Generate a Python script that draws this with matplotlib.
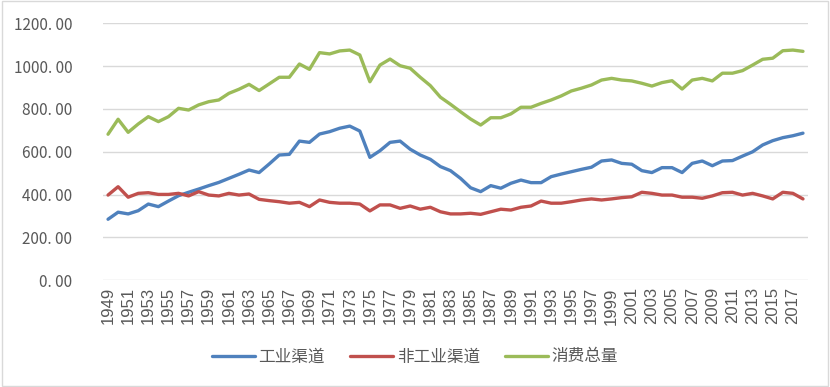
"""Consumption by channel, 1949-2018: line chart with three series."""

import matplotlib
matplotlib.use("Agg")
import matplotlib.pyplot as plt
from matplotlib.patches import Rectangle

plt.rcParams["font.family"] = ["Noto Sans CJK SC", "DejaVu Sans"]

years = list(range(1949, 2019))

industrial = [
    285, 318, 310, 325, 356, 344, 370, 395, 411, 426,
    442, 457, 476, 495, 515, 503, 543, 585, 588, 650,
    644, 683, 694, 710, 720, 697, 574, 605, 644, 650,
    612, 585, 565, 531, 512, 476, 432, 414, 442, 430,
    453, 468, 456, 456, 484, 496, 507, 518, 528, 557,
    562, 546, 542, 512, 503, 526, 526, 503, 546, 557,
    535, 557, 559, 580, 600, 632, 652, 666, 675, 687,
]
non_industrial = [
    398, 437, 388, 406, 409, 401, 401, 406, 394, 414,
    398, 394, 406, 398, 403, 378, 372, 367, 360, 364,
    344, 375, 364, 360, 360, 356, 324, 352, 352, 336,
    347, 332, 341, 320, 310, 310, 313, 308, 320, 332,
    328, 341, 347, 370, 360, 360, 367, 375, 380, 375,
    380, 386, 390, 411, 406, 398, 398, 388, 388, 383,
    394, 409, 411, 398, 406, 394, 380, 411, 406, 380,
]
total = [
    682, 752, 691, 730, 764, 741, 764, 803, 795, 819,
    834, 842, 873, 892, 915, 886, 917, 948, 948, 1010,
    985, 1063, 1057, 1071, 1075, 1052, 927, 1005, 1033, 1002,
    990, 948, 909, 855, 822, 787, 753, 725, 759, 759,
    777, 808, 808, 826, 842, 861, 884, 897, 912, 935,
    943, 935, 931, 920, 907, 923, 932, 893, 935, 943,
    931, 967, 967, 979, 1005, 1032, 1037, 1072, 1075, 1069,
]

series_names = ["工业渠道", "非工业渠道", "消费总量"]
series_colors = ["#4F81BD", "#C0504D", "#9BBB59"]
y_ticks = [0, 200, 400, 600, 800, 1000, 1200]
x_ticks = years[::2]

W, H = 830, 387
fig = plt.figure(figsize=(W / 100, H / 100), dpi=100)
ax = fig.add_axes([103 / W, 1 - 280.3 / H, (808 - 103) / W, (280.3 - 23.3) / H])

for vals, name, col in zip([industrial, non_industrial, total], series_names, series_colors):
    ax.plot(years, vals, color=col, lw=2.4, label=name, solid_capstyle="round",
            solid_joinstyle="round")

ax.set_xlim(years[0] - 0.5, years[-1] + 0.5)
ax.set_ylim(0, 1200)
ax.set_yticks(y_ticks)
ax.set_yticklabels([f"{v:.2f}".replace(".", ". ") for v in y_ticks])
ax.set_xticks(x_ticks)
ax.set_xticklabels([str(y) for y in x_ticks], rotation=90)
ax.tick_params(axis="both", length=0, colors="#595959")
ax.tick_params(axis="y", pad=22, labelsize=11)
ax.tick_params(axis="x", pad=5)
for lbl in ax.get_xticklabels():
    lbl.set_family("Liberation Sans")
    lbl.set_fontsize(12)

ax.grid(axis="y", color="#D9D9D9", lw=1)
ax.set_axisbelow(True)
for s in ax.spines.values():
    s.set_visible(False)

leg = fig.legend(loc="center", bbox_to_anchor=(0.5, 1 - 357 / H), ncol=3, frameon=False,
                 fontsize=12, handlelength=2.6, columnspacing=1.5, handletextpad=0.2)
for t in leg.get_texts():
    t.set_color("#595959")

fig.patches.append(Rectangle((0.002, 0.003), 0.996, 0.994, transform=fig.transFigure,
                             fill=False, edgecolor="#D9D9D9", lw=1))

fig.savefig("out.png", dpi=100)
